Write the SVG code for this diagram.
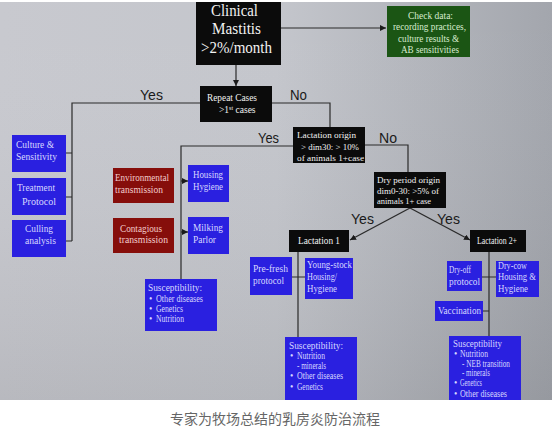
<svg xmlns="http://www.w3.org/2000/svg" width="552" height="431" viewBox="0 0 552 431">
<style>
.bx{font-family:"Liberation Serif",serif;font-size:9.5px;fill:#d8d8ff}
.wt{font-family:"Liberation Serif",serif;fill:#f2f2f2}
.rd{font-family:"Liberation Serif",serif;font-size:10px;fill:#f2cccc}
.gr{font-family:"Liberation Serif",serif;font-size:10px;fill:#d8ecd0}
.yn{font-family:"Liberation Sans",sans-serif;font-size:15px;fill:#1a1a1a}
.ln{stroke:#2a2a2a;stroke-width:1.2;fill:none}
.blue{fill:#2a20e0}
.red{fill:#860e0b}
.blk{fill:#0b0b0b}
</style>
<defs>
<linearGradient id="bg" x1="0" y1="0" x2="1" y2="0">
<stop offset="0" stop-color="#c8c9cf"/>
<stop offset="0.5" stop-color="#c4c6cc"/>
<stop offset="1" stop-color="#a3a6ad"/>
</linearGradient>
<linearGradient id="bgv" x1="0" y1="0" x2="0" y2="1">
<stop offset="0" stop-color="#ffffff" stop-opacity="0"/>
<stop offset="1" stop-color="#000000" stop-opacity="0.08"/>
</linearGradient>
<marker id="ah" viewBox="0 0 10 10" refX="10" refY="5" markerWidth="6" markerHeight="6" orient="auto" markerUnits="userSpaceOnUse">
<path d="M0,0 L10,5 L0,10 z" fill="#1a1a1a"/>
</marker>
<clipPath id="slide"><rect x="0" y="2" width="552" height="398"/></clipPath>
</defs>
<rect x="0" y="0" width="552" height="431" fill="#ffffff"/>
<rect x="0" y="2" width="552" height="398" fill="url(#bg)"/>
<rect x="0" y="2" width="552" height="398" fill="url(#bgv)"/>

<g id="connectors" clip-path="url(#slide)">
<path class="ln" d="M281,28 H386" marker-end="url(#ah)"/>
<path class="ln" d="M236,65 V86" marker-end="url(#ah)"/>
<path class="ln" d="M200,103 H72 V241 M66,153 H72 M66,197 H72 M66,241 H72"/>
<path class="ln" d="M272,103 H330 V127"/>
<path class="ln" d="M293,146 H181 V279"/>
<path class="ln" d="M181,181 H188" marker-end="url(#ah)"/>
<path class="ln" d="M181,232 H188" marker-end="url(#ah)"/>
<path class="ln" d="M365,145 H408 V172"/>
<path class="ln" d="M410,208 L350,240" marker-end="url(#ah)"/>
<path class="ln" d="M410,208 L470,240" marker-end="url(#ah)"/>
<path class="ln" d="M298,252 V337 M292,277 H305"/>
<path class="ln" d="M489,252 V336 M482,277 H496 M483,311 H489"/>
</g>

<g id="labels">
<text class="yn" x="140" y="100" textLength="23" lengthAdjust="spacingAndGlyphs">Yes</text>
<text class="yn" x="290" y="100" textLength="17" lengthAdjust="spacingAndGlyphs">No</text>
<text class="yn" x="258" y="143" textLength="21" lengthAdjust="spacingAndGlyphs">Yes</text>
<text class="yn" x="379" y="143" textLength="18" lengthAdjust="spacingAndGlyphs">No</text>
<text class="yn" x="351" y="224" textLength="23" lengthAdjust="spacingAndGlyphs">Yes</text>
<text class="yn" x="437" y="224" textLength="23" lengthAdjust="spacingAndGlyphs">Yes</text>
</g>

<g id="clinical-mastitis">
<rect class="blk" x="196" y="2" width="85" height="63"/>
<text class="wt" font-size="16.5" x="211" y="16" textLength="47" lengthAdjust="spacingAndGlyphs">Clinical</text>
<text class="wt" font-size="16.5" x="212" y="34" textLength="49" lengthAdjust="spacingAndGlyphs">Mastitis</text>
<text class="wt" font-size="16.5" x="201" y="53" textLength="71" lengthAdjust="spacingAndGlyphs">&gt;2%/month</text>
</g>

<g id="check-data">
<rect x="387" y="6" width="83" height="51" fill="#1b5514"/>
<text class="gr" x="408" y="19" textLength="45" lengthAdjust="spacingAndGlyphs">Check data:</text>
<text class="gr" x="393" y="30" textLength="73" lengthAdjust="spacingAndGlyphs">recording practices,</text>
<text class="gr" x="398" y="42" textLength="61" lengthAdjust="spacingAndGlyphs">culture results &amp;</text>
<text class="gr" x="401" y="53" textLength="58" lengthAdjust="spacingAndGlyphs">AB  sensitivities</text>
</g>

<g id="repeat-cases">
<rect class="blk" x="200" y="86" width="72" height="36"/>
<text class="wt" font-size="9.5" x="207" y="101" textLength="50" lengthAdjust="spacingAndGlyphs">Repeat Cases</text>
<text class="wt" font-size="9.5" x="219" y="113">&gt;1<tspan font-size="6" dy="-3">st</tspan><tspan dy="3"> cases</tspan></text>
</g>

<g id="culture-sensitivity">
<rect class="blue" x="12" y="135" width="54" height="37"/>
<text class="bx" x="16" y="148" textLength="38" lengthAdjust="spacingAndGlyphs">Culture &amp;</text>
<text class="bx" x="16" y="160" textLength="41" lengthAdjust="spacingAndGlyphs">Sensitivity</text>
</g>
<g id="treatment-protocol">
<rect class="blue" x="12" y="178" width="54" height="37"/>
<text class="bx" x="17" y="191" textLength="38" lengthAdjust="spacingAndGlyphs">Treatment</text>
<text class="bx" x="22" y="205" textLength="34" lengthAdjust="spacingAndGlyphs">Protocol</text>
</g>
<g id="culling-analysis">
<rect class="blue" x="12" y="220" width="54" height="37"/>
<text class="bx" x="25" y="232" textLength="28" lengthAdjust="spacingAndGlyphs">Culling</text>
<text class="bx" x="25" y="244" textLength="31" lengthAdjust="spacingAndGlyphs">analysis</text>
</g>

<g id="lactation-origin">
<rect class="blk" x="293" y="127" width="72" height="36"/>
<text class="wt" font-size="9" x="297" y="138" textLength="59" lengthAdjust="spacingAndGlyphs">Lactation origin</text>
<text class="wt" font-size="9" x="301" y="150" textLength="58" lengthAdjust="spacingAndGlyphs">&gt; dim30: &gt; 10%</text>
<text class="wt" font-size="9" x="297" y="161" textLength="67" lengthAdjust="spacingAndGlyphs">of animals 1+case</text>
</g>

<g id="environmental-transmission">
<rect class="red" x="113" y="168" width="61" height="35"/>
<text class="rd" x="115" y="181" textLength="54" lengthAdjust="spacingAndGlyphs">Environmental</text>
<text class="rd" x="115" y="193" textLength="48" lengthAdjust="spacingAndGlyphs">transmission</text>
</g>
<g id="contagious-transmission">
<rect class="red" x="113" y="218" width="61" height="35"/>
<text class="rd" x="120" y="232" textLength="42" lengthAdjust="spacingAndGlyphs">Contagious</text>
<text class="rd" x="119" y="243" textLength="49" lengthAdjust="spacingAndGlyphs">transmission</text>
</g>
<g id="housing-hygiene">
<rect class="blue" x="188" y="165" width="41" height="37"/>
<text class="bx" x="193" y="178" textLength="30" lengthAdjust="spacingAndGlyphs">Housing</text>
<text class="bx" x="193" y="190" textLength="30" lengthAdjust="spacingAndGlyphs">Hygiene</text>
</g>
<g id="milking-parlor">
<rect class="blue" x="188" y="217" width="41" height="37"/>
<text class="bx" x="193" y="231" textLength="30" lengthAdjust="spacingAndGlyphs">Milking</text>
<text class="bx" x="193" y="243" textLength="23" lengthAdjust="spacingAndGlyphs">Parlor</text>
</g>
<g id="susceptibility-1">
<rect class="blue" x="145" y="279" width="72" height="52"/>
<text class="bx" font-size="9" x="148" y="291" textLength="54" lengthAdjust="spacingAndGlyphs">Susceptibility:</text>
<text class="bx" font-size="9" x="149" y="302">•</text><text class="bx" font-size="9" x="156" y="302" textLength="47" lengthAdjust="spacingAndGlyphs">Other diseases</text>
<text class="bx" font-size="9" x="149" y="312">•</text><text class="bx" font-size="9" x="156" y="312" textLength="27" lengthAdjust="spacingAndGlyphs">Genetics</text>
<text class="bx" font-size="9" x="149" y="322">•</text><text class="bx" font-size="9" x="156" y="322" textLength="28" lengthAdjust="spacingAndGlyphs">Nutrition</text>
</g>

<g id="dry-period-origin">
<rect class="blk" x="374" y="172" width="72" height="36"/>
<text class="wt" font-size="9" x="377" y="183" textLength="63" lengthAdjust="spacingAndGlyphs">Dry period origin</text>
<text class="wt" font-size="9" x="377" y="194" textLength="62" lengthAdjust="spacingAndGlyphs">dim0-30: &gt;5% of</text>
<text class="wt" font-size="9" x="377" y="204" textLength="54" lengthAdjust="spacingAndGlyphs">animals 1+ case</text>
</g>

<g id="lactation-1">
<rect class="blk" x="289" y="230" width="60" height="22"/>
<text class="wt" font-size="9.5" x="298" y="244" textLength="42" lengthAdjust="spacingAndGlyphs">Lactation 1</text>
</g>
<g id="lactation-2">
<rect class="blk" x="470" y="230" width="56" height="22"/>
<text class="wt" font-size="9.5" x="477" y="244" textLength="40" lengthAdjust="spacingAndGlyphs">Lactation 2+</text>
</g>
<g id="pre-fresh-protocol">
<rect class="blue" x="250" y="257" width="42" height="38"/>
<text class="bx" x="253" y="272" textLength="35" lengthAdjust="spacingAndGlyphs">Pre-fresh</text>
<text class="bx" x="253" y="284" textLength="31" lengthAdjust="spacingAndGlyphs">protocol</text>
</g>
<g id="young-stock">
<rect class="blue" x="305" y="258" width="48" height="41"/>
<text class="bx" x="307" y="268" textLength="45" lengthAdjust="spacingAndGlyphs">Young-stock</text>
<text class="bx" x="307" y="280" textLength="30" lengthAdjust="spacingAndGlyphs">Housing/</text>
<text class="bx" x="307" y="292" textLength="30" lengthAdjust="spacingAndGlyphs">Hygiene</text>
</g>
<g id="dry-off-protocol">
<rect class="blue" x="447" y="261" width="35" height="30"/>
<text class="bx" x="449" y="273" textLength="22" lengthAdjust="spacingAndGlyphs">Dry-off</text>
<text class="bx" x="449" y="285" textLength="31" lengthAdjust="spacingAndGlyphs">protocol</text>
</g>
<g id="dry-cow-housing">
<rect class="blue" x="496" y="261" width="43" height="36"/>
<text class="bx" x="498" y="269" textLength="29" lengthAdjust="spacingAndGlyphs">Dry-cow</text>
<text class="bx" x="498" y="280" textLength="38" lengthAdjust="spacingAndGlyphs">Housing &amp;</text>
<text class="bx" x="498" y="292" textLength="30" lengthAdjust="spacingAndGlyphs">Hygiene</text>
</g>
<g id="vaccination">
<rect class="blue" x="435" y="301" width="48" height="20"/>
<text class="bx" x="438" y="314" textLength="43" lengthAdjust="spacingAndGlyphs">Vaccination</text>
</g>

<g id="susceptibility-2">
<rect class="blue" x="285" y="337" width="72" height="63"/>
<text class="bx" font-size="9" x="289" y="349" textLength="54" lengthAdjust="spacingAndGlyphs">Susceptibility:</text>
<text class="bx" font-size="9" x="290" y="359">•</text><text class="bx" font-size="9" x="297" y="359" textLength="28" lengthAdjust="spacingAndGlyphs">Nutrition</text>
<text class="bx" font-size="9" x="297" y="369" textLength="29" lengthAdjust="spacingAndGlyphs">- minerals</text>
<text class="bx" font-size="9" x="290" y="379">•</text><text class="bx" font-size="9" x="297" y="379" textLength="46" lengthAdjust="spacingAndGlyphs">Other diseases</text>
<text class="bx" font-size="9" x="290" y="390">•</text><text class="bx" font-size="9" x="297" y="390" textLength="26" lengthAdjust="spacingAndGlyphs">Genetics</text>
</g>

<g id="susceptibility-3">
<rect class="blue" x="449" y="336" width="72" height="64"/>
<text class="bx" font-size="9" x="453" y="347" textLength="49" lengthAdjust="spacingAndGlyphs">Susceptibility</text>
<text class="bx" font-size="9" x="454" y="357">•</text><text class="bx" font-size="9" x="460" y="357" textLength="28" lengthAdjust="spacingAndGlyphs">Nutrition</text>
<text class="bx" font-size="9" x="462" y="367" textLength="48" lengthAdjust="spacingAndGlyphs">- NEB transition</text>
<text class="bx" font-size="9" x="462" y="376" textLength="28" lengthAdjust="spacingAndGlyphs">- minerals</text>
<text class="bx" font-size="9" x="454" y="386">•</text><text class="bx" font-size="9" x="460" y="386" textLength="22" lengthAdjust="spacingAndGlyphs">Genetics</text>
<text class="bx" font-size="9" x="454" y="397">•</text><text class="bx" font-size="9" x="460" y="397" textLength="47" lengthAdjust="spacingAndGlyphs">Other diseases</text>
</g>

<text x="275" y="424" text-anchor="middle" font-family="'Noto Sans CJK SC',sans-serif" font-size="14" fill="#666666">专家为牧场总结的乳房炎防治流程</text>
</svg>
